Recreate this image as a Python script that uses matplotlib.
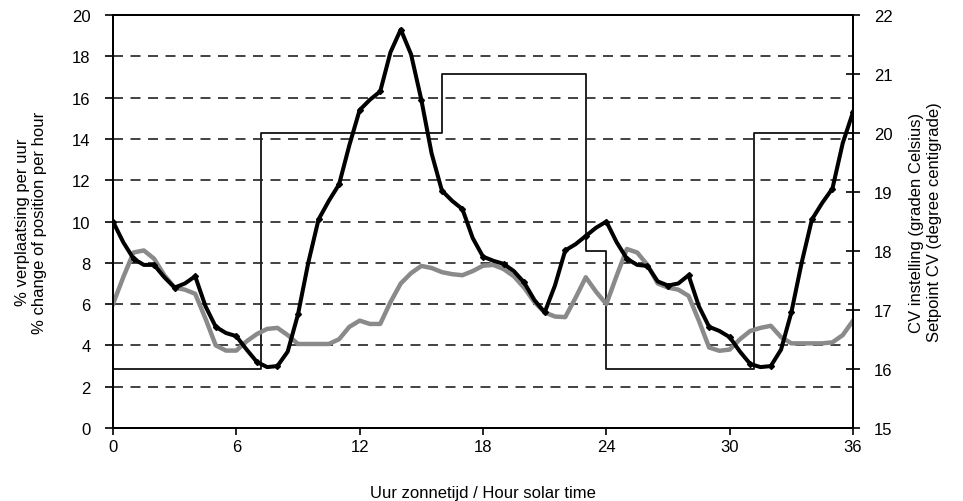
import numpy as np
import matplotlib
matplotlib.use('Agg')
import matplotlib.pyplot as plt

plt.rcParams.update({
    'font.family': ['Liberation Sans', 'DejaVu Sans'],
    'font.size': 12,
})

# hours (half-hour steps, 0..36)
hours = np.arange(0, 36.5, 0.5)

# % change of position per hour (black, with markers)
black_vals = [
    10.0, 9.0, 8.2, 7.9, 7.9, 7.3, 6.8, 7.0, 7.35, 5.9, 4.9, 4.6, 4.45,
    3.8, 3.2, 2.95, 3.0, 3.7, 5.5, 8.0, 10.1, 11.0, 11.8, 13.7, 15.4,
    15.9, 16.3, 18.2, 19.3, 18.1, 15.9, 13.3, 11.5, 11.0, 10.6, 9.2, 8.3,
    8.1, 7.95, 7.6, 7.05, 6.2, 5.6, 6.9, 8.6, 8.9, 9.3, 9.7, 10.0,
    9.0, 8.2, 7.9, 7.85, 7.1, 6.9, 7.0, 7.4, 5.9, 4.9, 4.7, 4.4,
    3.7, 3.1, 2.95, 3.0, 3.8, 5.6, 8.0, 10.1, 10.9, 11.6, 13.8, 15.3,
]

# second series (grey)
grey_vals = [
    6.0, 7.3, 8.5, 8.6, 8.2, 7.4, 6.8, 6.7, 6.5, 5.3, 4.0, 3.75, 3.75,
    4.2, 4.55, 4.8, 4.85, 4.5, 4.07, 4.07, 4.07, 4.07, 4.3, 4.9, 5.2,
    5.04, 5.04, 6.1, 7.0, 7.5, 7.85, 7.75, 7.55, 7.45, 7.4, 7.6, 7.86,
    7.9, 7.7, 7.35, 6.8, 6.1, 5.6, 5.4, 5.37, 6.3, 7.3, 6.6, 6.0,
    7.37, 8.67, 8.5, 7.9, 7.0, 6.8, 6.7, 6.4, 5.2, 3.9, 3.74, 3.8,
    4.3, 4.7, 4.85, 4.95, 4.4, 4.1, 4.1, 4.1, 4.1, 4.15, 4.5, 5.2,
]

# CV setpoint (right axis, step)
sp_hours = [0, 7.2, 16, 23, 24, 31.2, 36]
sp_vals = [16, 20, 21, 18, 16, 20, 20]

fig = plt.figure(figsize=(9.63, 5.02), dpi=100)
ax = fig.add_axes([0.1173, 0.1454, 0.7685, 0.8226])
ax2 = ax.twinx()

ax.set_zorder(ax2.get_zorder() + 1)
ax.patch.set_visible(False)

for y in range(2, 20, 2):
    ax.axhline(y, color='#222222', lw=1.2, ls=(0, (6, 4.5)), zorder=0)

ax.plot(hours, grey_vals, color='#8a8a8a', lw=3.2, zorder=2)
ax.plot(hours, black_vals, color='black', lw=2.9, marker='D', ms=3,
        markevery=2, zorder=3)

ax2.plot(sp_hours, sp_vals, color='#111111', lw=1.3, drawstyle='steps-post')

ax.set_xlim(0, 36)
ax.set_ylim(0, 20)
ax2.set_ylim(15, 22)
ax.set_xticks(range(0, 37, 6))
ax.set_yticks(range(0, 21, 2))
ax2.set_yticks(range(15, 23))

for sp in list(ax.spines.values()) + list(ax2.spines.values()):
    sp.set_linewidth(1.4)

ax.tick_params(axis='x', direction='out', length=5, width=1.2, pad=3)
ax.tick_params(axis='y', direction='out', length=6, width=1.2, pad=10)
ax2.tick_params(axis='y', direction='inout', length=10, width=1.2, pad=10)

ax.set_xlabel('Uur zonnetijd / Hour solar time', fontsize=12, labelpad=22)
ax.set_ylabel('% verplaatsing per uur\n% change of position per hour',
              fontsize=12, labelpad=18)
ax2.set_ylabel('CV instelling (graden Celsius)\nSetpoint CV (degree centigrade)',
               fontsize=12, rotation=90, labelpad=12)

fig.savefig('out.png', dpi=100)
